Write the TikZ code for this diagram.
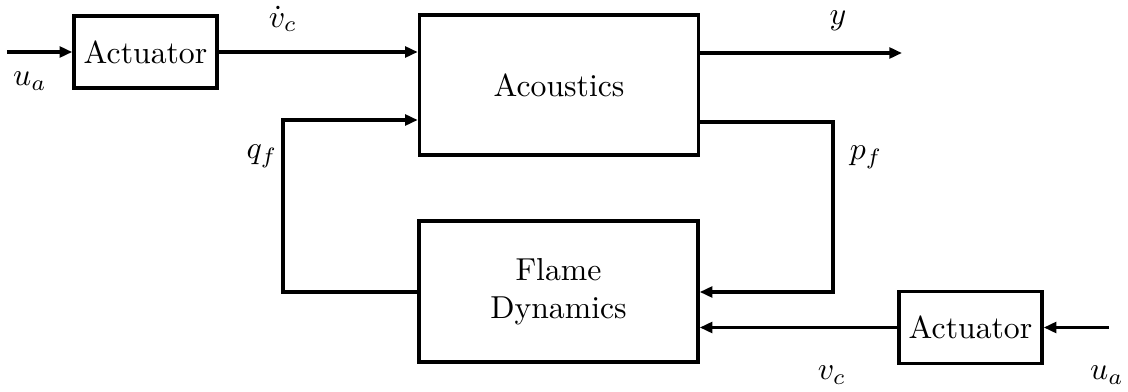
\documentclass[tikz,border=0pt]{standalone}
\usetikzlibrary{arrows.meta}
% one drawing unit = 0.315pt
\def\pxu{0.315pt}
\begin{document}
\begin{tikzpicture}[x=\pxu, y=-\pxu, line width=1.1pt,
  block/.style={draw, line width=1.1pt, inner sep=0pt, anchor=center, align=center},
  smallblock/.style={block, minimum width=143*\pxu, minimum height=72*\pxu},
  bigblock/.style={block, minimum width=279*\pxu, minimum height=140*\pxu},
  sig/.style={-{Triangle[length=4pt,width=3.4pt]}},
  lbl/.style={inner sep=0pt, anchor=center}]
\useasboundingbox (0,0) rectangle (1128,392);

% blocks
\node[smallblock] (act1) at (145.5,52) {Actuator};
\node[bigblock] (ac) at (559,85) {Acoustics};
\node[bigblock, minimum height=141*\pxu] (fl) at (558.5,291.5) {Flame\\Dynamics};
\node[smallblock] (act2) at (970.5,327.5) {Actuator};

% free ends and corners of the connectors
\coordinate (uin1) at (7,52);
\coordinate (yout) at (902,53);
\coordinate (pfu) at (833,122);
\coordinate (pfd) at (833,292);
\coordinate (qfd) at (283,292);
\coordinate (qfu) at (283,120);
\coordinate (uin2) at (1109,327.5);

% connectors
\draw[sig] (uin1) -- (act1.west);
\draw[sig] (act1.east) -- (act1.east -| ac.west);
\draw[sig] (yout -| ac.east) -- (yout);
\draw[sig] (pfu -| ac.east) -- (pfu) -- (pfd) -- (pfd -| fl.east);
\draw[sig] (qfd -| fl.west) -- (qfd) -- (qfu) -- (qfu -| ac.west);
\draw[sig] (act2.west) -- (act2.west -| fl.east);
\draw[sig] (uin2) -- (act2.east);

% signal labels
\node[lbl] (lua1) at (30,81) {$u_a$};
\node[lbl] (lvcd) at (283,19) {$\dot v_c$};
\node[lbl] (ly) at (838,21) {$y$};
\node[lbl] (lqf) at (262,156) {$q_f$};
\node[lbl] (lpf) at (866,157) {$p_f$};
\node[lbl] (lvc) at (832,375) {$v_c$};
\node[lbl] (lua2) at (1107,375) {$u_a$};
\end{tikzpicture}
\end{document}
